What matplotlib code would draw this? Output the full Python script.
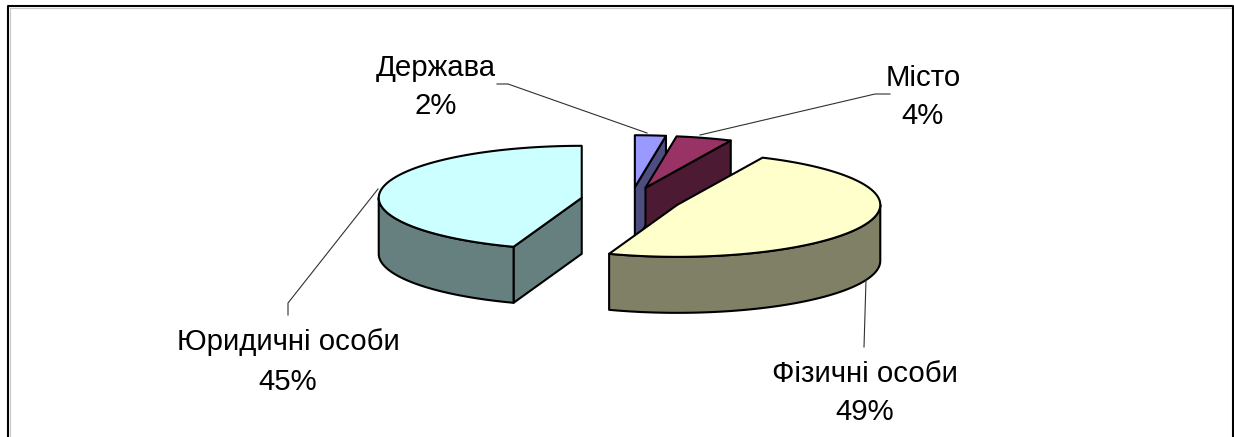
import numpy as np
import matplotlib
matplotlib.use("Agg")
import matplotlib.pyplot as plt
from matplotlib.patches import Polygon

categories = ["Держава", "Місто", "Фізичні особи", "Юридичні особи"]
values = [2.45, 4.45, 48.55, 44.55]
top_colors = ["#9999FF", "#993366", "#FFFFCC", "#CCFFFF"]
side_colors = ["#4D4D80", "#4D1A33", "#808066", "#668080"]
draw_order = [0, 1, 3, 2]

# label layout in pixels: text centre, leader polyline
label_pos = {0: (436, 87), 1: (923, 97), 2: (865, 393), 3: (288, 362)}
leaders = {
    0: [(497, 84), (508, 84), (647, 133)],
    1: [(890, 94), (875, 94), (700, 135)],
    2: [(864, 347), (866, 280)],
    3: [(288, 315), (288, 303), (378, 189)],
}

W, H = 1234, 437
CX, CY, RX, RY, DEPTH, EXPLODE = 631, 200, 203, 52, 56, 0.2463

plt.rcParams["font.family"] = ["Liberation Sans", "DejaVu Sans"]
fig = plt.figure(figsize=(W / 100, H / 100), dpi=100, facecolor="white")
ax = fig.add_axes([0, 0, 1, 1])
ax.set_xlim(0, W)
ax.set_ylim(H, 0)
ax.axis("off")

# frame
ax.plot([10, 10], [H, 8], color="#C8C8C8", lw=0.8, zorder=1)
ax.plot([10, 1232], [8, 8], color="#C8C8C8", lw=0.8, zorder=1)
ax.plot([8, 8, 1233, 1233], [H, 6, 6, H], color="black", lw=1.5, zorder=2)

total = sum(values)
sweeps = [v / total * 360 for v in values]
ends = 90 - np.cumsum(sweeps)
starts = ends + np.array(sweeps)


def pt(c, a, dy=0.0):
    r = np.radians(a)
    return (c[0] + RX * np.cos(r), c[1] - RY * np.sin(r) + dy)


def arc(c, a0, a1, dy=0.0):
    n = max(2, int(abs(a1 - a0)) + 2)
    return [pt(c, a, dy) for a in np.linspace(a0, a1, n)]


edge = dict(edgecolor="black", lw=1.5, joinstyle="round")
z = 3
for i in draw_order:
    a0, a1 = starts[i], ends[i]
    mid = np.radians((a0 + a1) / 2)
    c = (CX + EXPLODE * RX * np.cos(mid), CY - EXPLODE * RY * np.sin(mid))
    base = (c[0], c[1] + DEPTH)
    # radial cut faces that look toward the viewer
    for a, visible in ((a1, np.cos(np.radians(a1)) > 1e-6), (a0, np.cos(np.radians(a0)) < -1e-6)):
        if visible:
            ax.add_patch(Polygon([c, pt(c, a), pt(c, a, DEPTH), base],
                                 facecolor=side_colors[i], zorder=z, **edge))
    # outer wall on the front half
    lo, hi = max(a1, -180), min(a0, 0)
    if hi > lo:
        ax.add_patch(Polygon(arc(c, hi, lo) + arc(c, lo, hi, DEPTH),
                             facecolor=side_colors[i], zorder=z, **edge))
    ax.add_patch(Polygon([c] + arc(c, a0, a1), facecolor=top_colors[i], zorder=z + 0.5, **edge))
    z += 1

for i, name in enumerate(categories):
    x, y = label_pos[i]
    ax.text(x, y, f"{name}\n{round(values[i] / total * 100)}%", ha="center", va="center",
            fontsize=21.2, color="black", linespacing=1.5, zorder=20)
    xs, ys = zip(*leaders[i])
    ax.plot(xs, ys, color="#303030", lw=0.8, zorder=19)

fig.savefig("out.png", dpi=100)
